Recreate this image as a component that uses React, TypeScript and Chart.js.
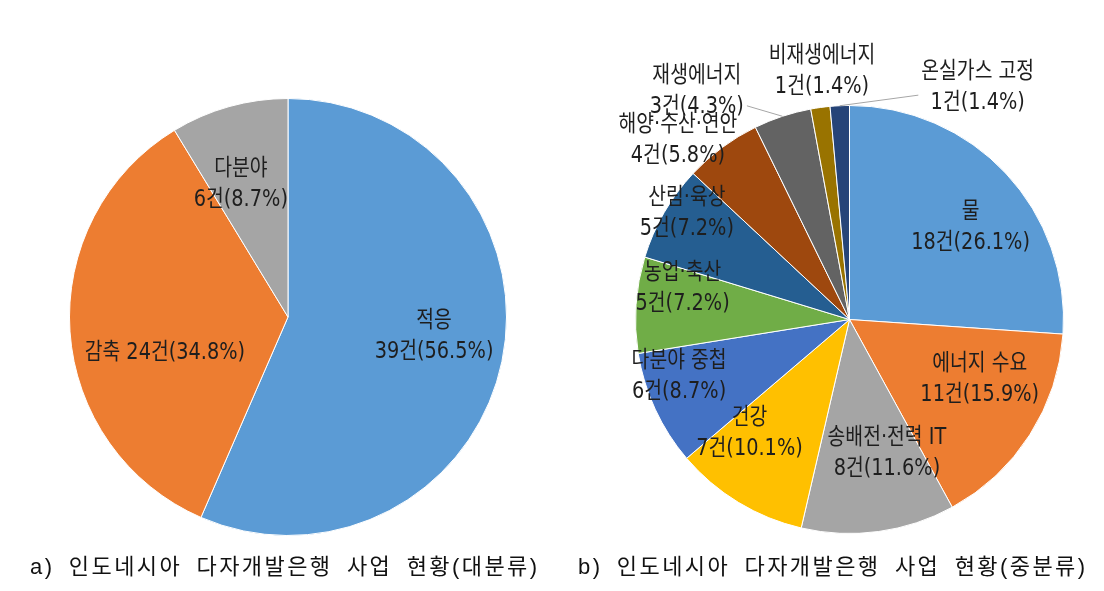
import React, { useEffect, useRef } from "react";
import { Chart, registerables } from "chart.js";

Chart.register(...registerables);

// ---- data: a) 대분류 ----
const majorCategories = ["적응", "감축", "다분야"];
const majorCounts = [39, 24, 6];
const majorColors = ["#5B9BD5", "#ED7D31", "#A5A5A5"];

// ---- data: b) 중분류 ----
const subCategories = [
  "물",
  "에너지 수요",
  "송배전·전력 IT",
  "건강",
  "다분야 중첩",
  "농업·축산",
  "산림·육상",
  "해양·수산·연안",
  "재생에너지",
  "비재생에너지",
  "온실가스 고정",
];
const subCounts = [18, 11, 8, 7, 6, 5, 5, 4, 3, 1, 1];
const subColors = [
  "#5B9BD5",
  "#ED7D31",
  "#A5A5A5",
  "#FFC000",
  "#4472C4",
  "#70AD47",
  "#255E91",
  "#9E480E",
  "#636363",
  "#997300",
  "#264478",
];

const captionA = "a) 인도네시아 다자개발은행 사업 현황(대분류)";
const captionB = "b) 인도네시아 다자개발은행 사업 현황(중분류)";

// ---- label placement (angle offset from slice middle in degrees, radius as fraction of pie radius) ----
const majorLabelAngle = [-4.3, -12.4, -3.9];
const majorLabelRadius = [0.674, 0.587, 0.645];
const majorLabelInline = [false, true, false];
const majorLabelLeader = [false, false, false];

const subLabelAngle = [5.9, -7.9, -7.8, 9.9, 6.4, 6.6, 3, -7.2, -15.5, 1.5, 31.5];
const subLabelRadius = [0.71, 0.67, 0.649, 0.709, 0.839, 0.793, 0.906, 1.16, 1.284, 1.168, 1.24];
const subLabelInline = subCategories.map(() => false);
const subLabelLeader = [false, false, false, false, false, false, false, false, true, false, true];

const LABEL_FONT = "23px 'DejaVu Sans', 'Noto Sans CJK KR', sans-serif";
const LABEL_SX = 0.84;
const LINE_H = 31;
const TEXT_COLOR = "#1e1e1e";

type LabelCfg = {
  angle: number[];
  radius: number[];
  inline: boolean[];
  leader: boolean[];
};

function makeLabelPlugin(cfg: LabelCfg) {
  return {
    id: "sliceLabels",
    afterDatasetsDraw(chart: any) {
      const ctx: CanvasRenderingContext2D = chart.ctx;
      const meta = chart.getDatasetMeta(0);
      const data = chart.data.datasets[0].data as number[];
      const total = data.reduce((a: number, b: number) => a + b, 0);
      meta.data.forEach((arc: any, i: number) => {
        const { x, y, startAngle, endAngle, outerRadius } = arc.getProps(
          ["x", "y", "startAngle", "endAngle", "outerRadius"],
          true
        );
        const mid = (startAngle + endAngle) / 2;
        const a = mid + (cfg.angle[i] * Math.PI) / 180;
        const r = outerRadius * cfg.radius[i];
        const lx = x + Math.cos(a) * r;
        const ly = y + Math.sin(a) * r;
        const name = String(chart.data.labels[i]);
        const valueText = `${data[i]}건(${((data[i] / total) * 100).toFixed(1)}%)`;
        const lines = cfg.inline[i] ? [`${name} ${valueText}`] : [name, valueText];

        ctx.save();
        ctx.font = LABEL_FONT;
        ctx.textAlign = "center";
        ctx.textBaseline = "middle";
        ctx.fillStyle = TEXT_COLOR;
        let maxW = 0;
        lines.forEach((ln, k) => {
          const w = ctx.measureText(ln).width * LABEL_SX;
          if (w > maxW) maxW = w;
          const ty = ly + (k - (lines.length - 1) / 2) * LINE_H;
          ctx.save();
          ctx.translate(lx, ty);
          ctx.scale(LABEL_SX, 1);
          ctx.fillText(ln, 0, 0);
          ctx.restore();
        });

        if (cfg.leader[i]) {
          const ex = x + Math.cos(mid) * outerRadius;
          const ey = y + Math.sin(mid) * outerRadius;
          const hw = maxW / 2 + 3;
          const hh = (lines.length * LINE_H) / 2 - 4;
          const dx = ex - lx;
          const dy = ey - ly;
          const t = Math.min(
            dx !== 0 ? hw / Math.abs(dx) : Infinity,
            dy !== 0 ? hh / Math.abs(dy) : Infinity
          );
          const sx = lx + dx * t;
          const sy = ly + dy * t;
          ctx.beginPath();
          ctx.strokeStyle = "#A6A6A6";
          ctx.lineWidth = 1;
          ctx.moveTo(sx, sy);
          ctx.lineTo(ex, ey);
          ctx.stroke();
        }
        ctx.restore();
      });
    },
  };
}

type PieProps = {
  labels: string[];
  values: number[];
  colors: string[];
  cfg: LabelCfg;
  padding: { left: number; right: number; top: number; bottom: number };
  left: number;
};

function PieChart({ labels, values, colors, cfg, padding, left }: PieProps) {
  const ref = useRef<HTMLCanvasElement | null>(null);
  useEffect(() => {
    if (!ref.current) return;
    const chart = new Chart(ref.current, {
      type: "pie",
      data: {
        labels,
        datasets: [
          {
            data: values,
            backgroundColor: colors,
            borderColor: "#ffffff",
            borderWidth: 1,
          },
        ],
      },
      options: {
        responsive: false,
        animation: false,
        layout: { padding },
        plugins: {
          legend: { display: false },
          tooltip: { enabled: false },
        },
      },
      plugins: [makeLabelPlugin(cfg)],
    } as any);
    return () => chart.destroy();
  }, []);
  return (
    <canvas
      ref={ref}
      width={552}
      height={591}
      style={{ position: "absolute", left, top: 0, width: 552, height: 591 }}
    />
  );
}

const captionStyle: React.CSSProperties = {
  position: "absolute",
  top: 552,
  fontFamily: "'Liberation Sans', 'Noto Sans CJK KR', sans-serif",
  fontSize: 22,
  lineHeight: "30px",
  letterSpacing: "2.4px",
  wordSpacing: "6px",
  whiteSpace: "nowrap",
  color: "#111",
};

export default function App() {
  return (
    <div
      style={{
        position: "absolute",
        left: 0,
        top: 0,
        width: 1104,
        height: 591,
        background: "#ffffff",
        overflow: "hidden",
      }}
    >
      <PieChart
        labels={majorCategories}
        values={majorCounts}
        colors={majorColors}
        cfg={{
          angle: majorLabelAngle,
          radius: majorLabelRadius,
          inline: majorLabelInline,
          leader: majorLabelLeader,
        }}
        padding={{ left: 69, right: 45, top: 98, bottom: 55 }}
        left={0}
      />
      <PieChart
        labels={subCategories}
        values={subCounts}
        colors={subColors}
        cfg={{
          angle: subLabelAngle,
          radius: subLabelRadius,
          inline: subLabelInline,
          leader: subLabelLeader,
        }}
        padding={{ left: 83, right: 40, top: 105, bottom: 57 }}
        left={552}
      />
      <div style={{ ...captionStyle, left: 30 }}>{captionA}</div>
      <div style={{ ...captionStyle, left: 578 }}>{captionB}</div>
    </div>
  );
}
